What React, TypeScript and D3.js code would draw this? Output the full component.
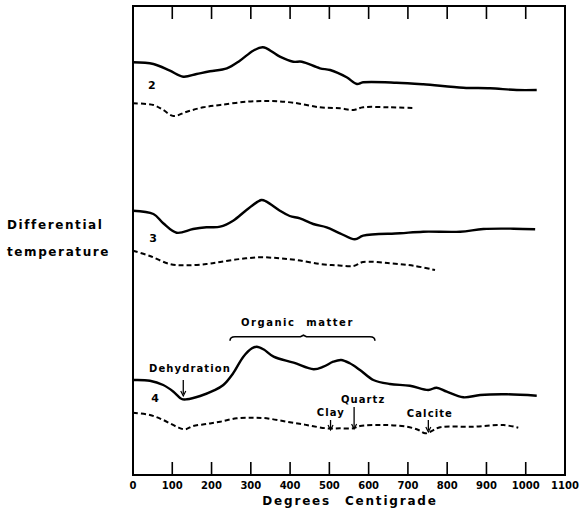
import React from "react";
import * as d3 from "d3";

// x: degrees centigrade; y: relative differential temperature (arbitrary units)
const xTicks = [0, 100, 200, 300, 400, 500, 600, 700, 800, 900, 1000, 1100];

const curve2SolidT = [0, 52, 94, 128, 162, 196, 239, 272, 306, 330, 340, 374, 408, 430, 476, 502, 544, 570, 586, 671, 739, 841, 909, 977, 1028];
const curve2SolidV = [412.7, 411, 404.3, 398.3, 401, 403.7, 406.7, 414.3, 424.3, 427.7, 426.7, 418.3, 413.3, 413.3, 406.7, 405, 397.7, 391, 392.7, 392.3, 390.7, 387.3, 386.7, 385, 385];

const curve2DashT = [0, 52, 77, 103, 137, 179, 222, 290, 349, 408, 476, 527, 561, 586, 654, 714];
const curve2DashV = [371.7, 370, 365, 359, 363.3, 367.7, 370, 373.3, 374, 372.3, 367.7, 366.7, 365, 367.7, 367.7, 367];

const curve3SolidT = [0, 52, 77, 111, 153, 187, 222, 255, 289, 327, 340, 374, 399, 425, 459, 493, 527, 565, 586, 680, 739, 833, 892, 969, 1024];
const curve3SolidV = [264.3, 261, 251.7, 242.3, 246, 247.7, 248.3, 254.3, 265, 275, 273.3, 264.3, 259, 256.7, 251, 247.7, 241.7, 235.7, 239.3, 241.7, 243.3, 243.3, 246, 246.3, 245.7];

const curve3DashT = [0, 43, 94, 137, 187, 222, 273, 324, 374, 417, 476, 519, 561, 586, 654, 714, 769];
const curve3DashV = [224.3, 219, 211, 209.7, 211, 213, 216, 217.7, 216.7, 215, 211, 209.7, 209, 213, 211.7, 209.3, 205];

const curve4SolidT = [0, 43, 77, 103, 124, 137, 171, 205, 230, 255, 281, 303, 315, 332, 358, 409, 460, 485, 510, 530, 552, 578, 612, 654, 705, 752, 773, 799, 841, 884, 952, 1028];
const curve4SolidV = [95, 94.3, 90, 83.3, 76, 75.7, 79, 84.3, 90, 101.7, 118.3, 126.7, 128.3, 125.7, 118.3, 112.3, 105.7, 108.3, 113.3, 115, 111.7, 105, 95, 91, 89.3, 85, 87.3, 83.3, 77.7, 80, 80.7, 79.3];

const curve4DashT = [0, 43, 77, 111, 132, 153, 187, 222, 264, 306, 340, 391, 442, 493, 527, 561, 578, 637, 697, 727, 744, 757, 782, 867, 943, 981];
const curve4DashV = [62.3, 60, 55, 48.3, 45.7, 49, 51, 53.3, 56.7, 57.3, 56.7, 53.3, 50, 46.7, 46.7, 46.7, 49, 50, 48.3, 45, 41.7, 43.3, 47.7, 48.3, 50, 47.3];

const curveLabels = ["2", "3", "4"];
const curveLabelT = [48, 51, 56];
const curveLabelV = [390, 237, 77];

// annotations: label, label position, arrow temperature, arrow from/to values
const arrowNames = ["Dehydration", "Clay", "Quartz", "Calcite"];
const arrowLabelT = [145, 504, 586, 756];
const arrowLabelV = [107, 63.3, 76, 61.7];
const arrowT = [128, 503, 563, 752];
const arrowFromV = [95, 55, 68, 55];
const arrowToV = [79, 45, 46, 43];

const organicLabel = "Organic matter";
const organicStartT = 247;
const organicEndT = 616;
const organicMidT = 434;
const organicV = 138.3;
const organicLabelV = 152.7;

const W = 583;
const H = 524;
const FONT = "'DejaVu Sans', Verdana, sans-serif";

function zip(t: number[], v: number[]): [number, number][] {
  return t.map((d, i) => [d, v[i]]);
}

export default function App() {
  const x = d3.scaleLinear().domain([0, 1100]).range([133, 565]);
  const y = d3.scaleLinear().domain([0, 469]).range([475, 6]);
  const top = y(469);
  const bottom = y(0);

  const line = d3
    .line<[number, number]>()
    .x((d) => x(d[0]))
    .y((d) => y(d[1]))
    .curve(d3.curveCatmullRom.alpha(0.5));

  const solids = [
    zip(curve2SolidT, curve2SolidV),
    zip(curve3SolidT, curve3SolidV),
    zip(curve4SolidT, curve4SolidV),
  ];
  const dashes = [
    zip(curve2DashT, curve2DashV),
    zip(curve3DashT, curve3DashV),
    zip(curve4DashT, curve4DashV),
  ];

  const bx0 = x(organicStartT);
  const bx1 = x(organicEndT);
  const bxm = x(organicMidT);
  const by = y(organicV);
  const bracePath = `M${bx0},${by + 4} Q${bx0},${by} ${bx0 + 5},${by} L${bxm - 3},${by} L${bxm},${by - 1.5} L${bxm + 3},${by} L${bx1 - 5},${by} Q${bx1},${by} ${bx1},${by + 4}`;

  return (
    <svg
      width={W}
      height={H}
      style={{ position: "absolute", left: 0, top: 0, background: "#fff" }}
    >
      {/* frame */}
      <rect x={x(0)} y={top} width={x(1100) - x(0)} height={bottom - top} fill="none" stroke="#000" strokeWidth={2} />
      {/* ticks */}
      {xTicks.slice(1, -1).map((t) => (
        <g key={t}>
          <line x1={x(t)} x2={x(t)} y1={top} y2={top + 13} stroke="#000" strokeWidth={1.6} />
          <line x1={x(t)} x2={x(t)} y1={bottom} y2={bottom - 13} stroke="#000" strokeWidth={1.6} />
        </g>
      ))}
      {xTicks.map((t) => (
        <text key={"l" + t} x={x(t)} y={489} textAnchor="middle" fontFamily={FONT} fontWeight="bold" fontSize={10}>
          {t}
        </text>
      ))}
      <text x={350} y={505} textAnchor="middle" fontFamily={FONT} fontWeight="bold" fontSize={12} letterSpacing={1.8} wordSpacing={8}>
        Degrees Centigrade
      </text>
      <text x={7} y={229} fontFamily={FONT} fontWeight="bold" fontSize={12} letterSpacing={1.6}>
        Differential
      </text>
      <text x={7} y={256} fontFamily={FONT} fontWeight="bold" fontSize={12} letterSpacing={1.6}>
        temperature
      </text>

      {/* curves */}
      {solids.map((d, i) => (
        <path key={"s" + i} d={line(d) || ""} fill="none" stroke="#000" strokeWidth={2.4} strokeLinejoin="round" />
      ))}
      {dashes.map((d, i) => (
        <path key={"d" + i} d={line(d) || ""} fill="none" stroke="#000" strokeWidth={2} strokeDasharray="5,3" />
      ))}

      {curveLabels.map((c, i) => (
        <text key={c} x={x(curveLabelT[i])} y={y(curveLabelV[i]) + 4} textAnchor="middle" fontFamily={FONT} fontWeight="bold" fontSize={11}>
          {c}
        </text>
      ))}

      {/* arrows */}
      {arrowNames.map((n, i) => {
        const ax = x(arrowT[i]);
        const y0 = y(arrowFromV[i]);
        const y1 = y(arrowToV[i]);
        return (
          <g key={n}>
            <text x={x(arrowLabelT[i])} y={y(arrowLabelV[i]) + 4} textAnchor="middle" fontFamily={FONT} fontWeight="bold" fontSize={10} letterSpacing={1.1}>
              {n}
            </text>
            <line x1={ax} x2={ax} y1={y0} y2={y1 - 2} stroke="#000" strokeWidth={1.3} />
            <path d={`M${ax - 2.5},${y1 - 5} L${ax},${y1} L${ax + 2.5},${y1 - 5}`} fill="none" stroke="#000" strokeWidth={1.2} />
          </g>
        );
      })}

      {/* organic matter brace */}
      <path d={bracePath} fill="none" stroke="#000" strokeWidth={1.6} />
      <text x={(bx0 + bx1) / 2 - 5} y={y(organicLabelV) + 4} textAnchor="middle" fontFamily={FONT} fontWeight="bold" fontSize={10} letterSpacing={1.5} wordSpacing={6}>
        {organicLabel}
      </text>
    </svg>
  );
}
